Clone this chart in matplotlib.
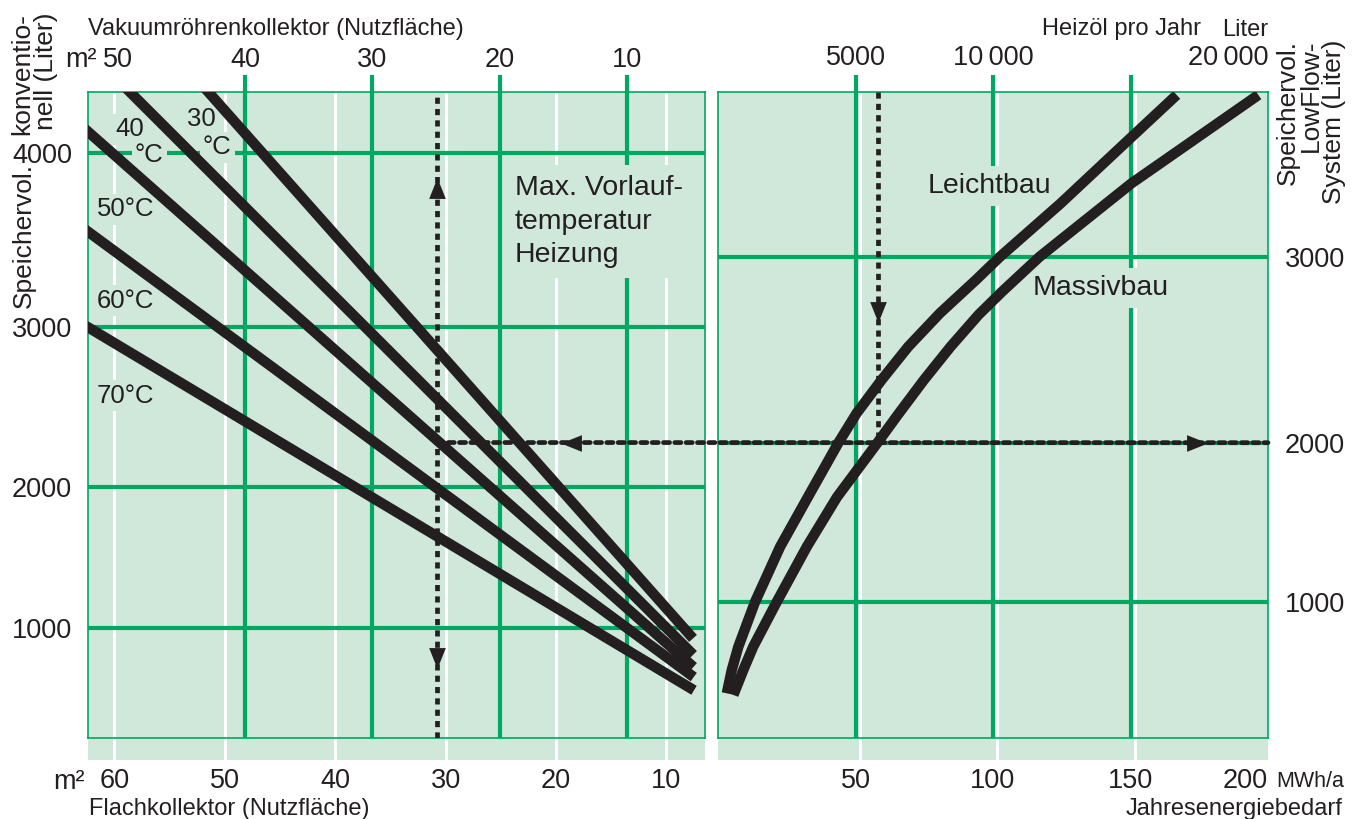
import numpy as np
import matplotlib
matplotlib.use("Agg")
import matplotlib.pyplot as plt
from matplotlib.patches import Rectangle, ConnectionPatch
from matplotlib.transforms import ScaledTranslation

plt.rcParams['font.family'] = ['Liberation Sans', 'DejaVu Sans']

# ------------------ DATA ------------------
# left panel: collector area -> conventional store volume (one line per flow temperature)
temp_labels = ['30', '40', '50', '60', '70']
flach_start = [51.5, 58.6, 62.4, 62.4, 62.4]      # m2 flat plate collector
konv_start = [4336, 4336, 4119, 3558, 3000]       # litre
flach_end = [7.9, 7.9, 7.9, 7.9, 7.9]
konv_end = [946, 812, 707, 616, 492]

flach_ticks = [60, 50, 40, 30, 20, 10]
vak_ticks = [50, 40, 30, 20, 10]
vak_grid = [40, 30, 20, 10]
konv_ticks = [1000, 2000, 3000, 4000]

# right panel: annual energy demand -> LowFlow store volume
mwh_leicht = [3.2, 5.0, 7.4, 13.5, 22.6, 32.7, 43.8, 50.4, 59.5, 69.2, 80.7, 93.8, 102.5, 124.4, 150.4, 166.8]
low_leicht = [241, 467, 663, 1000, 1370, 1680, 2000, 2167, 2352, 2532, 2709, 2882, 3000, 3266, 3593, 3794]
mwh_massiv = [5.6, 9.2, 12.8, 21.4, 32.3, 43.3, 58.0, 65.8, 74.9, 84.6, 94.7, 103.2, 116.9, 150.4, 196.5]
low_massiv = [223, 467, 663, 1000, 1370, 1680, 2000, 2167, 2352, 2532, 2700, 2820, 3000, 3368, 3794]

mwh_ticks = [50, 100, 150, 200]
heizoel_ticks = [5000, 10000, 20000]
heizoel_labels = ['5000', '10\u2009000', '20\u2009000']
heizoel_grid = [5000, 10000, 15000]
low_ticks = [1000, 2000, 3000]

# worked example (dotted path through both panels)
ex_mwh = 58
ex_low = 2000
ex_flach = 30.8
ex_konv = 2290
arrows_left = [(ex_flach, 3805, 'up'), (ex_flach, 754, 'down'), (18.6, ex_konv, 'left')]
arrows_right = [(ex_mwh, 2717, 'down'), (174.2, ex_low, 'right')]

# ------------------ STYLE ------------------
BG = '#cfe8da'
GREEN = '#00a862'
INK = '#231f20'
W, H = 1360, 819
STRIP = 22 / 646
TOP_EXT = 17 / 646
DOT = (0, (1.3, 1.1))
NUM = 19.5
TITLE = 17

ARROWS = {
    'up': [(-0.4, -0.5), (0.4, -0.5), (0, 0.5)],
    'down': [(-0.4, 0.5), (0.4, 0.5), (0, -0.5)],
    'left': [(0.5, -0.4), (0.5, 0.4), (-0.5, 0)],
    'right': [(-0.5, -0.4), (-0.5, 0.4), (0.5, 0)],
}


def power_scale(p):
    def fwd(v):
        v = np.asarray(v, float) / 1000
        return np.sign(v) * np.abs(v) ** p

    def inv(u):
        u = np.asarray(u, float)
        return np.sign(u) * np.abs(u) ** (1 / p) * 1000
    return fwd, inv


def flach_to_vak(f):
    return 0.867 * np.asarray(f, float) - 1.77


def vak_to_flach(v):
    return (np.asarray(v, float) + 1.77) / 0.867


def mwh_to_litre(m):
    return np.asarray(m, float) * 100


def litre_to_mwh(l):
    return np.asarray(l, float) / 100


def fig_xy(x, y):
    return x / W, 1 - y / H


fig = plt.figure(figsize=(W / 100, H / 100), dpi=100)
axL = fig.add_axes([88 / W, 1 - 738 / H, 617 / W, 646 / H])
axR = fig.add_axes([718 / W, 1 - 738 / H, 550 / W, 646 / H])

for ax in (axL, axR):
    ax.set_facecolor(BG)
    for s in ax.spines.values():
        s.set_color(GREEN)
        s.set_linewidth(1.2)
    ax.tick_params(length=0, labelsize=NUM, labelcolor=INK)
    ax.add_patch(Rectangle((0, -STRIP), 1, STRIP, transform=ax.transAxes,
                           fc=BG, ec='none', clip_on=False, zorder=0))

# ---- left panel axes ----
axL.set_xlim(62.4, 6.5)
axL.set_yscale('function', functions=power_scale(1.25))
axL.set_ylim(-136, 4336)
axL.set_xticks(flach_ticks, [str(t) for t in flach_ticks])
axL.set_yticks(konv_ticks, [str(t) for t in konv_ticks])
axL.tick_params(axis='x', pad=21.6)
axL.tick_params(axis='y', pad=11.5)

secL = axL.secondary_xaxis('top', functions=(flach_to_vak, vak_to_flach))
secL.set_xticks(vak_ticks, [str(t) for t in vak_ticks])
secL.tick_params(length=0, labelsize=NUM, labelcolor=INK, pad=13.9)
for s in secL.spines.values():
    s.set_visible(False)

for f in flach_ticks:
    axL.axvline(f, ymin=-STRIP, ymax=1, color='white', lw=2.2, zorder=1,
                clip_on=False, solid_capstyle='butt')
for v in konv_ticks:
    axL.axhline(v, color=GREEN, lw=3, zorder=2)
for v in vak_grid:
    axL.axvline(vak_to_flach(v), ymin=0, ymax=1 + TOP_EXT, color=GREEN, lw=3,
                zorder=2, clip_on=False, solid_capstyle='butt')

for i in range(len(temp_labels)):
    axL.plot([flach_start[i], flach_end[i]], [konv_start[i], konv_end[i]],
             color=INK, lw=7.5, solid_capstyle='projecting', zorder=4)

# ---- right panel axes ----
axR.set_xlim(0, 200)
axR.set_yscale('function', functions=power_scale(1.3))
axR.set_ylim(-348, 3808)
axR.yaxis.tick_right()
axR.set_xticks(mwh_ticks, [str(t) for t in mwh_ticks])
axR.set_yticks(low_ticks, [str(t) for t in low_ticks])
axR.get_xticklabels()[-1].set_ha('right')
axR.tick_params(axis='x', pad=21.6)
axR.tick_params(axis='y', pad=12.2)

secR = axR.secondary_xaxis('top', functions=(mwh_to_litre, litre_to_mwh))
secR.set_xticks(heizoel_ticks, heizoel_labels)
secR.tick_params(length=0, labelsize=NUM, labelcolor=INK, pad=15.3)
secR.get_xticklabels()[-1].set_ha('right')
for s in secR.spines.values():
    s.set_visible(False)

shift = ScaledTranslation(4 / 100, 0, fig.dpi_scale_trans)
for m in mwh_ticks[:-1]:
    ln = axR.axvline(m, ymin=-STRIP, ymax=1, color='white', lw=2.2, zorder=1,
                     clip_on=False, solid_capstyle='butt')
    ln.set_transform(ln.get_transform() + shift)
for v in low_ticks:
    axR.axhline(v, color=GREEN, lw=3, zorder=2)
for h in heizoel_grid:
    axR.axvline(litre_to_mwh(h), ymin=0, ymax=1 + TOP_EXT, color=GREEN, lw=3,
                zorder=2, clip_on=False, solid_capstyle='butt')

axR.plot(mwh_leicht, low_leicht, color=INK, lw=7.5, solid_capstyle='butt',
         solid_joinstyle='round', zorder=4)
axR.plot(mwh_massiv, low_massiv, color=INK, lw=7.5, solid_capstyle='butt',
         solid_joinstyle='round', zorder=4)

# ---- worked example ----
axL.axvline(ex_flach, color=INK, lw=3.4, ls=DOT, zorder=5)
axR.plot([ex_mwh, ex_mwh], [axR.get_ylim()[1], ex_low], color=INK, lw=3.4,
         ls=DOT, zorder=5)
con = ConnectionPatch(xyA=(ex_flach, ex_konv), coordsA='data', axesA=axL,
                      xyB=(200, ex_low), coordsB='data', axesB=axR,
                      color=INK, lw=3.4, ls=DOT, zorder=5)
fig.add_artist(con)
for ax, arrows in ((axL, arrows_left), (axR, arrows_right)):
    for x, y, d in arrows:
        ax.plot(x, y, marker=ARROWS[d], ms=15, color=INK, mew=0, zorder=6)

# ---- labels inside the panels ----
box = dict(boxstyle='square,pad=0.12', fc=BG, ec='none')
lbl = dict(transform=fig.transFigure, color=INK, zorder=3, bbox=box)
axL.text(*fig_xy(115, 127), '40', size=18.5, ha='left', va='center_baseline', **lbl)
axL.text(*fig_xy(135, 152), '°C', size=18.5, ha='left', va='center_baseline', **lbl)
axL.text(*fig_xy(187, 117), '30', size=18.5, ha='left', va='center_baseline', **lbl)
axL.text(*fig_xy(203, 145), '°C', size=18.5, ha='left', va='center_baseline', **lbl)
for t, y in zip(temp_labels[2:], [207, 298, 393]):
    axL.text(*fig_xy(97, y), t + '°C', size=18.5, ha='left', va='center_baseline', **lbl)

axL.text(*fig_xy(515, 175), 'Max. Vorlauf-\ntemperatur\nHeizung', size=20.5,
         ha='left', va='top', linespacing=1.38, transform=fig.transFigure,
         color=INK, zorder=3,
         bbox=dict(boxstyle='square,pad=0.35', fc=BG, ec='none'))
axR.text(*fig_xy(928, 183), 'Leichtbau', size=20.5, ha='left',
         va='center_baseline', transform=fig.transFigure, color=INK, zorder=3,
         bbox=dict(boxstyle='square,pad=0.25', fc=BG, ec='none'))
axR.text(*fig_xy(1033, 285), 'Massivbau', size=20.5, ha='left',
         va='center_baseline', transform=fig.transFigure, color=INK, zorder=3,
         bbox=dict(boxstyle='square,pad=0.25', fc=BG, ec='none'))

# ---- axis titles ----
fig.text(*fig_xy(88, 27), 'Vakuumröhrenkollektor (Nutzfläche)', size=TITLE,
         ha='left', va='center_baseline', color=INK)
fig.text(*fig_xy(97, 57), 'm²', size=NUM, ha='right', va='center_baseline', color=INK)
fig.text(*fig_xy(85, 779), 'm²', size=NUM, ha='right', va='center_baseline', color=INK)
fig.text(*fig_xy(89, 806), 'Flachkollektor (Nutzfläche)', size=TITLE,
         ha='left', va='center_baseline', color=INK)
fig.text(*fig_xy(1042, 27), 'Heizöl pro Jahr', size=TITLE, ha='left',
         va='center_baseline', color=INK)
fig.text(*fig_xy(1268, 27), 'Liter', size=TITLE, ha='right',
         va='center_baseline', color=INK)
fig.text(*fig_xy(1276, 779), 'MWh/a', size=15.5, ha='left',
         va='center_baseline', color=INK)
fig.text(*fig_xy(1343, 806), 'Jahresenergiebedarf', size=TITLE, ha='right',
         va='center_baseline', color=INK)

# rotated axis titles; "4000" sits in the gap of the left one
fig.text(*fig_xy(24, 308), 'Speichervol.', size=19, rotation=90,
         ha='center', va='bottom', color=INK)
fig.text(*fig_xy(34.5, 13), 'konventio-\nnell (Liter)', size=19,
         rotation=90, ha='center', va='top', multialignment='right',
         linespacing=1.0, color=INK)
fig.text(*fig_xy(1311, 40), 'Speichervol.\nLowFlow-\nSystem (Liter)', size=19,
         rotation=90, ha='center', va='top', multialignment='right',
         linespacing=0.95, color=INK)

fig.savefig('out.png', dpi=100)
